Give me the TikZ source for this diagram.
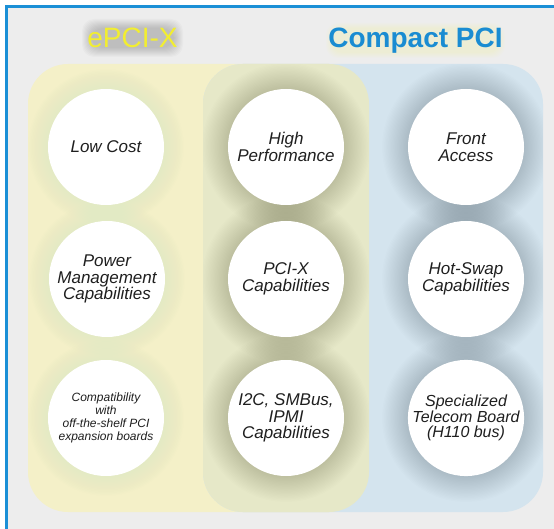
\documentclass[tikz,border=0pt]{standalone}
\usepackage{fontspec}
\setmainfont{Liberation Sans}
\begin{document}
\begin{tikzpicture}[x=1pt,y=-1pt]
\definecolor{panelgray}{HTML}{EDEDED}
\definecolor{frameblue}{HTML}{1B8FD6}
\definecolor{epciyellow}{HTML}{F4F0C8}
\definecolor{cpciblue}{HTML}{D4E4EE}
\definecolor{bothgreen}{HTML}{E6E8C8}
\definecolor{titleyellow}{HTML}{F2EE30}
\definecolor{titleblue}{HTML}{1A8CD2}
\definecolor{glowgreen}{HTML}{E2EAC4}
\tikzset{
  bubble/.style={circle, fill=white, minimum size=116pt, inner sep=0pt,
    align=center, text=black!88, font=\itshape\fontsize{17}{16.5}\selectfont},
  titletext/.style={anchor=base, inner sep=0pt, font=\fontsize{28}{28}\selectfont},
}
\useasboundingbox (0,0) rectangle (554,529);
% panel and frame
\fill[white] (0,0) rectangle (554,529);
\fill[panelgray] (6.5,6.5) rectangle (554,529);
\draw[frameblue, line width=2.5pt] (6.5,529) -- (6.5,6.5) -- (554,6.5);

% the two feature areas and their overlap
\def\yellowpath{(28,64) rectangle (369,512)}
\def\bluepath{(203,64) rectangle (543,512)}
\fill[epciyellow, rounded corners=40pt] \yellowpath;
\fill[cpciblue, rounded corners=40pt] \bluepath;
\begin{scope}
  \clip[rounded corners=40pt] \bluepath;
  \fill[bothgreen, rounded corners=40pt] \yellowpath;
\end{scope}

% bubble centres
\coordinate (c11) at (106,147);
\coordinate (c12) at (107,279);
\coordinate (c13) at (106,418);
\coordinate (c21) at (286,147);
\coordinate (c22) at (286,279);
\coordinate (c23) at (286,418);
\coordinate (c31) at (466,147);
\coordinate (c32) at (466,279);
\coordinate (c33) at (466,418);

% soft halos behind the bubbles
\begin{scope}
  \clip[rounded corners=40pt] \yellowpath;
  \foreach \p in {c11,c12,c13}
    \foreach \k in {1,...,14}
      \fill[glowgreen, fill opacity=0.07] (\p) circle [radius=58+1.4*\k];
\end{scope}
\begin{scope}
  \clip[rounded corners=40pt] \yellowpath;
  \clip[rounded corners=40pt] \bluepath;
  \foreach \p in {c21,c22,c23}
    \foreach \k in {1,...,20}
      \fill[black, fill opacity=0.007] (\p) circle [radius=58+1.3*\k];
\end{scope}
\begin{scope}
  \clip[rounded corners=40pt] \bluepath;
  \foreach \p in {c31,c32,c33}
    \foreach \k in {1,...,20}
      \fill[black, fill opacity=0.007] (\p) circle [radius=58+1.3*\k];
\end{scope}

% bubbles
\node[bubble] (lowcost) at (c11) {Low Cost};
\node[bubble] (power) at (c12) {Power\\Management\\Capabilities};
\node[bubble, font=\itshape\fontsize{12}{12.8}\selectfont] (compat) at (c13)
  {Compatibility\\with\\off-the-shelf PCI\\expansion boards};
\node[bubble] (highperf) at (c21) {High\\Performance};
\node[bubble] (pcix) at (c22) {PCI-X\\Capabilities};
\node[bubble] (i2c) at (c23) {I2C, SMBus,\\IPMI\\Capabilities};
\node[bubble] (front) at (c31) {Front\\Access};
\node[bubble] (hotswap) at (c32) {Hot-Swap\\Capabilities};
\node[bubble, font=\itshape\fontsize{16}{15.5}\selectfont] (telecom) at (c33)
  {Specialized\\Telecom Board\\(H110 bus)};

% soft glows behind the titles
\foreach \k in {1,...,10}
  \fill[black, fill opacity=0.02, rounded corners=12pt]
    (92-\k,29-\k) rectangle (173+\k,47+\k);
\foreach \k in {1,...,6}
  \fill[yellow!55!white, fill opacity=0.03, rounded corners=12pt]
    (332-\k,29-\k) rectangle (499+\k,52+\k);

% titles
\node[titletext, text=titleyellow] (epci) at (132.5,47.5) {ePCI-X};
\node[titletext, font=\bfseries\fontsize{28}{28}\selectfont, text=titleblue]
  (cpci) at (415.5,47.5) {Compact PCI};
\end{tikzpicture}
\end{document}
